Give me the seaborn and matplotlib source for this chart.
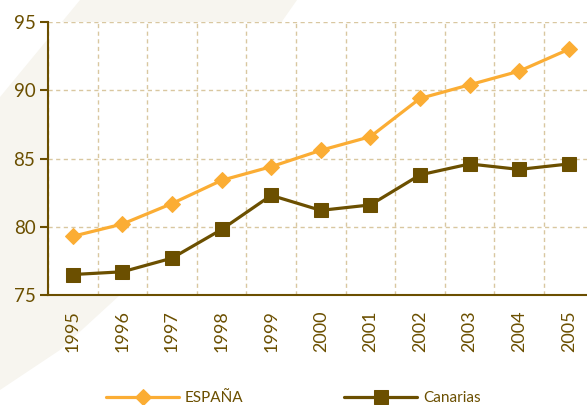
import numpy as np
import pandas as pd
import matplotlib
matplotlib.use("Agg")
import matplotlib.pyplot as plt
from matplotlib.patches import Polygon
from matplotlib.ticker import FixedLocator
import seaborn as sns


YEARS = ["1995", "1996", "1997", "1998", "1999", "2000",
         "2001", "2002", "2003", "2004", "2005"]
ESPANA = [79.3, 80.2, 81.7, 83.4, 84.4, 85.6, 86.6, 89.4, 90.4, 91.4, 93.0]
CANARIAS = [76.5, 76.7, 77.7, 79.8, 82.3, 81.2, 81.6, 83.8, 84.6, 84.2, 84.6]
Y_TICKS = [75, 80, 85, 90, 95]

ORANGE = "#FBAD34"
BROWN = "#6B4F00"
GRID = "#D9C7A0"
BEIGE = "#F7F5EF"

W, H = 587, 405

sns.set_style("white")
plt.rcParams["font.family"] = ["Lato", "DejaVu Sans"]

df = pd.DataFrame({"year": YEARS, "ESPAÑA": ESPANA, "Canarias": CANARIAS})

fig = plt.figure(figsize=(W / 100, H / 100), dpi=100)
fig.patch.set_facecolor("white")

# decorative beige band behind the plot
band = [(80, 0), (297, 0), (283, 20), (120, 295), (60, 350), (0, 390), (0, 97)]
fig.patches.append(Polygon([(x / W, 1 - y / H) for x, y in band],
                           closed=True, transform=fig.transFigure,
                           facecolor=BEIGE, edgecolor="none", zorder=-5))

ax = fig.add_axes([48 / W, 1 - 295 / H, (W - 48) / W, (295 - 22) / H])
ax.set_zorder(1)
ax.set_facecolor("white")

sns.lineplot(data=df, x="year", y="ESPAÑA", ax=ax, color=ORANGE, lw=2.3,
             marker="D", markersize=8.5, markeredgecolor=ORANGE,
             label="ESPAÑA", zorder=3)
sns.lineplot(data=df, x="year", y="Canarias", ax=ax, color=BROWN, lw=2.3,
             marker="s", markersize=9.5, markeredgecolor=BROWN,
             label="Canarias", zorder=3)

n = len(YEARS)
ax.set_xlim(-0.5, -0.5 + (W - 48) / 49.6)
ax.set_ylim(75, 95)
ax.set_yticks(Y_TICKS)
ax.set_xticks(range(n))
ax.set_xticklabels(YEARS, rotation=90)
ax.xaxis.set_minor_locator(FixedLocator(np.arange(-0.5, n, 1.0)))

ax.tick_params(axis="x", which="major", length=0, pad=11,
               labelsize=13, labelcolor=BROWN)
ax.tick_params(axis="x", which="minor", length=6, width=1.5,
               color=BROWN, direction="out")
ax.tick_params(axis="y", which="major", length=6, width=1.5, pad=3,
               color=BROWN, labelsize=13.5, labelcolor=BROWN, left=True)

ax.grid(False)
ax.yaxis.grid(True, which="major", color=GRID, ls=(0, (3, 2.5)), lw=1)
ax.xaxis.grid(True, which="minor", color=GRID, ls=(0, (3, 2.5)), lw=1)
ax.set_axisbelow(True)

for side in ["top", "right"]:
    ax.spines[side].set_visible(False)
for side in ["left", "bottom"]:
    ax.spines[side].set_color(BROWN)
    ax.spines[side].set_linewidth(1.5)

ax.set_xlabel("")
ax.set_ylabel("")

handles, labels = ax.get_legend_handles_labels()
ax.get_legend().remove()
fig.legend(handles, labels, loc="center left",
           bbox_to_anchor=(106 / W, 1 - 398 / H), ncol=2, frameon=False,
           fontsize=11, labelcolor=BROWN, handlelength=4.8,
           handletextpad=0.35, columnspacing=6.6, borderpad=0,
           borderaxespad=0)

fig.savefig("out.png", dpi=100)
